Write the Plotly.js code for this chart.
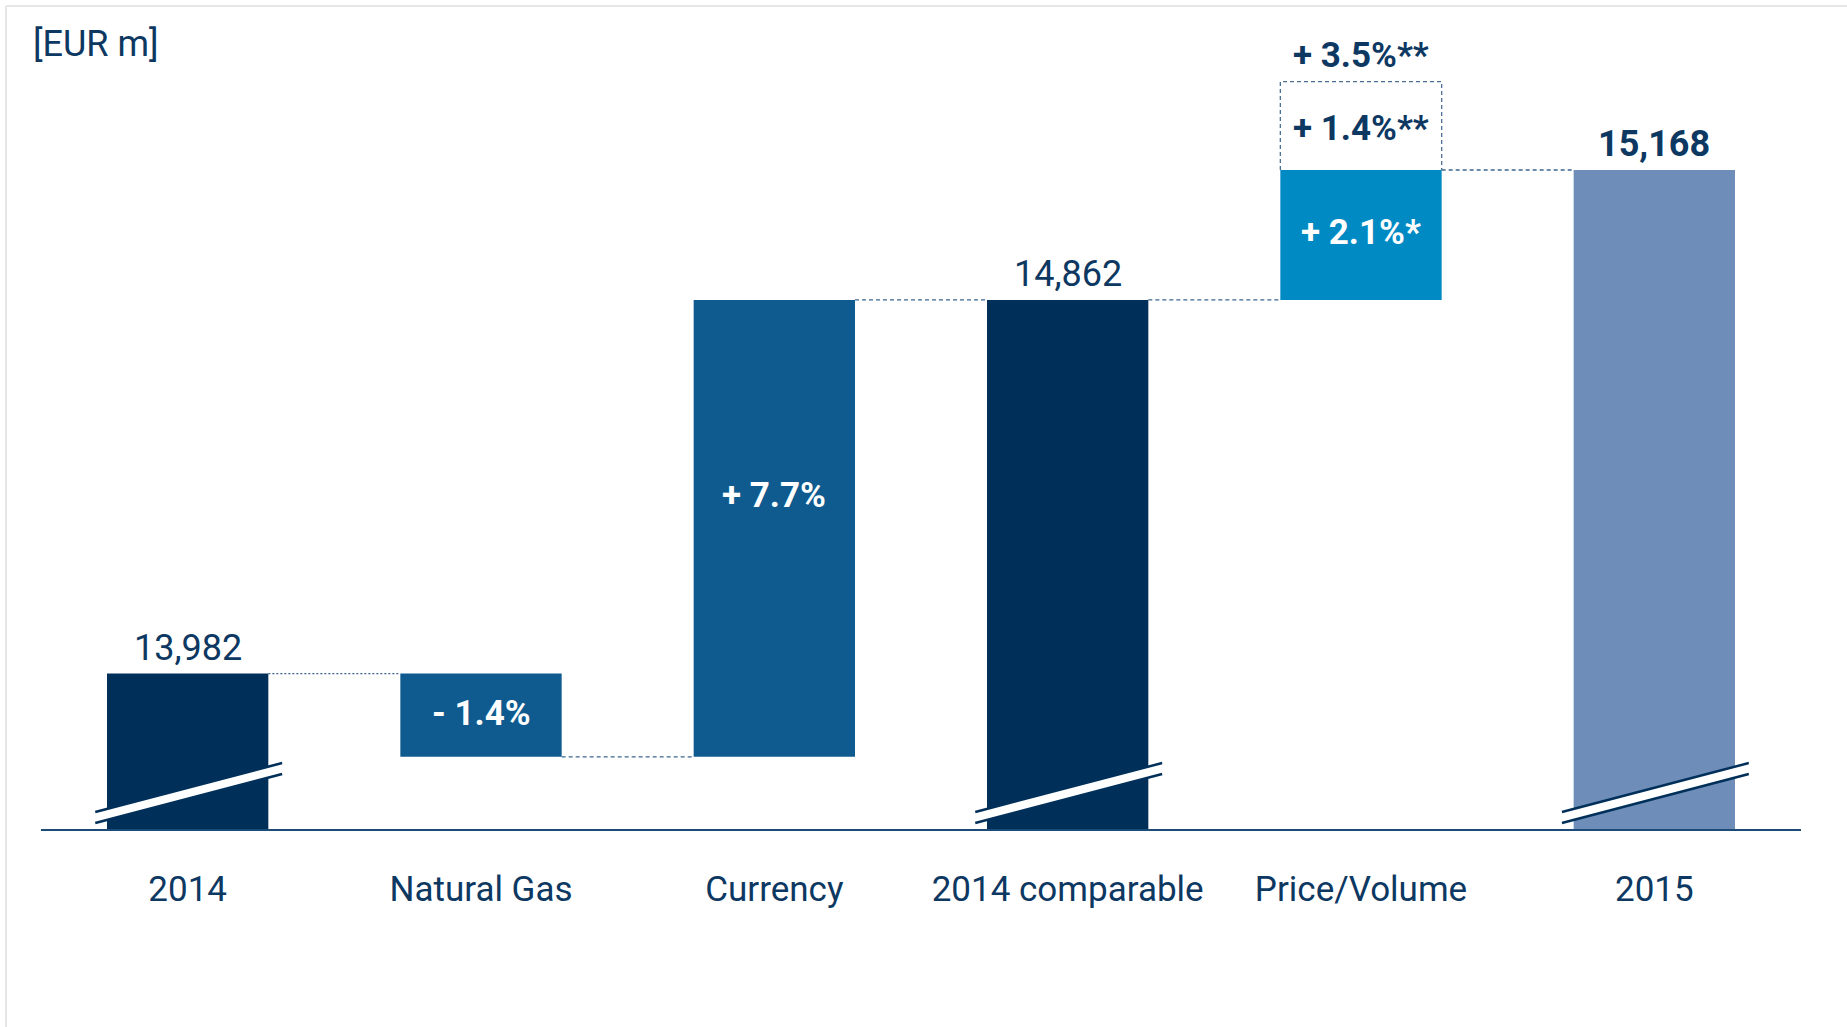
<!DOCTYPE html>
<html>
<head>
<meta charset="utf-8">
<script src="https://cdn.plot.ly/plotly-3.0.1.min.js"></script>
<style>
  html, body { margin: 0; padding: 0; background: #ffffff; }
  #chart { width: 1847px; height: 1027px; }
</style>
</head>
<body>
<div id="chart"></div>
<script>
// ---------- data ----------
const categories = ['2014', 'Natural Gas', 'Currency', '2014 comparable', 'Price/Volume', '2015'];
const measures   = ['total', 'relative', 'relative', 'total', 'relative', 'total'];
const amounts    = [13982, -196, 1076, 14862, 306, 15168];          // EUR m (deltas estimated)
const barLabels  = ['13,982', '- 1.4%', '+ 7.7%', '14,862', '+ 2.1%*', '15,168'];
const organicExtra  = 208;                                         // +1.4%** on top of Price/Volume
const organicLabels = ['+ 1.4%**', '+ 3.5%**'];
const unitLabel = '[EUR m]';

// ---------- styles ----------
const NAVY = '#00305A', MID = '#0F5B90', BRIGHT = '#008AC4', LIGHT = '#6E8DB8';
const barColors = [NAVY, MID, MID, NAVY, BRIGHT, LIGHT];
const TXT = '#0D3862';
const FONT = 'Roboto, "Noto Sans", sans-serif';
const HALF = 0.275;

// ---------- derived geometry via data ----------
let running = 0;
const xs = [], bases = [], heights = [], tops = [], bottoms = [], levels = [];
for (let i = 0; i < categories.length; i++) {
  xs.push(i);
  let base;
  if (measures[i] === 'total') { base = 0; running = amounts[i]; }
  else { base = running; running += amounts[i]; }
  bases.push(base);
  heights.push(amounts[i]);
  tops.push(Math.max(base, base + amounts[i]));
  bottoms.push(Math.min(base, base + amounts[i]));
  levels.push(running);
}

const traces = [];
traces.push({
  type: 'bar', x: xs, y: heights, base: bases, width: 2 * HALF,
  marker: { color: barColors, line: { width: 0 } },
  hoverinfo: 'skip', showlegend: false
});

// connectors
for (let i = 0; i < categories.length - 1; i++) {
  traces.push({
    type: 'scatter', mode: 'lines',
    x: [i + HALF, i + 1 - HALF], y: [levels[i], levels[i]],
    line: { color: '#3A6690', width: 1.3, dash: i === 0 ? '2px,2px' : '4px,3px' },
    hoverinfo: 'skip', showlegend: false
  });
}

// dashed organic box above Price/Volume
const pv = 4;
traces.push({
  type: 'scatter', mode: 'lines',
  x: [pv - HALF, pv - HALF, pv + HALF, pv + HALF],
  y: [levels[pv], levels[pv] + organicExtra, levels[pv] + organicExtra, levels[pv]],
  line: { color: '#4A7096', width: 1.3, dash: '4px,3px' },
  hoverinfo: 'skip', showlegend: false
});

// ---------- annotations ----------
const annotations = [];
for (let i = 0; i < categories.length; i++) {
  if (measures[i] === 'total') {
    annotations.push({
      x: xs[i], y: tops[i], xref: 'x', yref: 'y', text: barLabels[i], showarrow: false,
      yanchor: 'middle', yshift: 26,
      font: { family: FONT, size: 36, color: TXT, weight: i === 5 ? 700 : 400 }
    });
  } else {
    annotations.push({
      x: xs[i], y: (tops[i] + bottoms[i]) / 2, xref: 'x', yref: 'y', text: barLabels[i], showarrow: false,
      yanchor: 'middle', yshift: i === 2 ? 33 : 2,
      font: { family: FONT, size: 35, color: '#ffffff', weight: 700 }
    });
  }
}
annotations.push({
  x: pv, y: levels[pv] + organicExtra / 2, xref: 'x', yref: 'y', text: organicLabels[0], showarrow: false,
  yanchor: 'middle', yshift: -3,
  font: { family: FONT, size: 35, color: TXT, weight: 700 }
});
annotations.push({
  x: pv, y: levels[pv] + organicExtra, xref: 'x', yref: 'y', text: organicLabels[1], showarrow: false,
  yanchor: 'middle', yshift: 26,
  font: { family: FONT, size: 35, color: TXT, weight: 700 }
});
annotations.push({
  x: -0.0055, y: 1.0213, xref: 'paper', yref: 'paper', text: unitLabel, showarrow: false,
  xanchor: 'left', yanchor: 'middle',
  font: { family: FONT, size: 36, color: TXT }
});

// ---------- shapes: axis breaks & frame ----------
const shapes = [];
[0, 3, 5].forEach(function (c) {
  const xl = c - 0.315, xr = c + 0.322;
  shapes.push({
    type: 'path', xref: 'x', yref: 'paper', layer: 'above',
    path: 'M ' + xl + ',0.0221 L ' + xr + ',0.0858 L ' + xr + ',0.0715 L ' + xl + ',0.0078 Z',
    fillcolor: '#ffffff', line: { width: 0 }
  });
  shapes.push({ type: 'line', xref: 'x', yref: 'paper', layer: 'above',
    x0: xl, y0: 0.0221, x1: xr, y1: 0.0858, line: { color: NAVY, width: 2.5 } });
  shapes.push({ type: 'line', xref: 'x', yref: 'paper', layer: 'above',
    x0: xl, y0: 0.0078, x1: xr, y1: 0.0715, line: { color: NAVY, width: 2.5 } });
});
shapes.push({ type: 'line', xref: 'paper', yref: 'paper', x0: -0.0199, x1: 1.03, y0: 1.0702, y1: 1.0702,
  line: { color: '#E6E6E6', width: 2 } });
shapes.push({ type: 'line', xref: 'paper', yref: 'paper', x0: -0.0199, x1: -0.0199, y0: 1.0702, y1: -0.3,
  line: { color: '#E6E6E6', width: 2 } });

const layout = {
  width: 1847, height: 1027,
  margin: { l: 41, r: 46, t: 60, b: 198, pad: 0 },
  paper_bgcolor: '#ffffff', plot_bgcolor: '#ffffff',
  showlegend: false, hovermode: false,
  xaxis: {
    type: 'linear', range: [-0.5, 5.5], tickvals: xs, ticktext: categories,
    showgrid: false, zeroline: false, showline: true, linecolor: '#1D4B77', linewidth: 2,
    ticks: '', ticklabelstandoff: 28,
    tickfont: { family: FONT, size: 35, color: TXT }, fixedrange: true
  },
  yaxis: {
    range: [13616, 15427], visible: false, showgrid: false, zeroline: false, fixedrange: true
  },
  annotations: annotations,
  shapes: shapes
};

Plotly.newPlot('chart', traces, layout, { displayModeBar: false, staticPlot: true });
</script>
</body>
</html>
